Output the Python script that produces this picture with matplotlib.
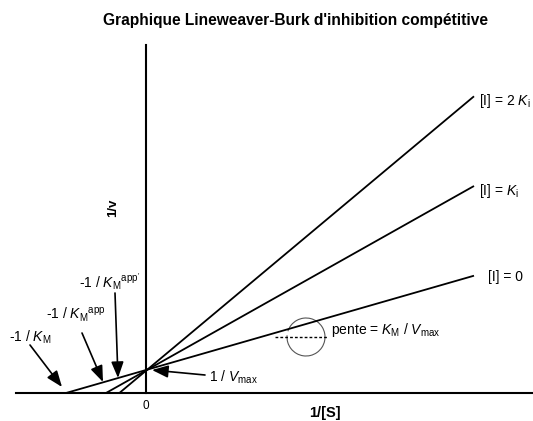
import matplotlib
matplotlib.use("Agg")
import matplotlib.pyplot as plt
from matplotlib.patches import Arc

plt.rcParams['font.family'] = ['Liberation Sans', 'DejaVu Sans']
plt.rcParams['mathtext.fontset'] = 'custom'
plt.rcParams['mathtext.rm'] = 'Liberation Sans'
plt.rcParams['mathtext.it'] = 'Liberation Sans:italic'
plt.rcParams['mathtext.bf'] = 'Liberation Sans:bold'

# valeurs (unites arbitraires)
labels_I = [r'[I] = 0', r'[I] = $\mathit{K}_\mathrm{i}$', r'[I] = 2 $\mathit{K}_\mathrm{i}$']
x_intercepts = [-1.0, -0.5, -0.333]     # -1/KM, -1/KMapp, -1/KMapp'
x_end = 4.1
y_end = [5.1, 9.0, 12.9]
inv_vmax = 1.0

W, H = 533, 421
fig = plt.figure(figsize=(W / 100, H / 100), dpi=100)
ax = fig.add_axes([0, 0, 1, 1])

# echelle : origine a (146, 393) px, 80 px par unite en x, 23 px en y
sx, sy = 80.0, 23.0
x0, y0 = 146.0, 393.0
ax.set_xlim(-x0 / sx, (W - x0) / sx)
ax.set_ylim(-(H - y0) / sy, y0 / sy)


def px(x, y):
    # position en pixels de l'image -> coordonnees data
    return (x - x0) / sx, (y0 - y) / sy


for sp in ['top', 'right']:
    ax.spines[sp].set_visible(False)
ax.spines['left'].set_position(('data', 0))
ax.spines['bottom'].set_position(('data', 0))
ax.spines['left'].set_bounds(0, px(0, 45)[1])
ax.spines['bottom'].set_bounds(px(16, 0)[0], px(W, 0)[0])
ax.spines['left'].set_linewidth(1.5)
ax.spines['bottom'].set_linewidth(1.5)
ax.set_xticks([])
ax.set_yticks([])

for xi, ye in zip(x_intercepts, y_end):
    ax.plot([xi, x_end], [0, ye], color='black', lw=1.3, solid_capstyle='butt')

# etiquettes des droites
fs = 10
ax.text(*px(488, 277), labels_I[0], fontsize=fs, va='center', ha='left')
ax.text(*px(479, 191), labels_I[1], fontsize=fs, va='center', ha='left')
ax.text(*px(479, 101), labels_I[2], fontsize=fs, va='center', ha='left')

# fleches
arrow = dict(arrowstyle='-|>,head_length=0.65,head_width=0.25', color='black',
             lw=1.2, mutation_scale=15, shrinkA=0, shrinkB=0)
ann = [
    (px(62, 387), px(30, 345), px(30, 337), r'-1 / $\mathit{K}_\mathrm{M}$'),
    (px(103, 382), px(82, 333), px(76, 315), r'-1 / $\mathit{K}_\mathrm{M}{}^{\mathrm{app}}$'),
    (px(118, 378), px(115, 293), px(110, 282), r"-1 / $\mathit{K}_\mathrm{M}{}^{\mathrm{app'}}$"),
]
for tip, tail, tpos, txt in ann:
    ax.annotate('', xy=tip, xytext=tail, arrowprops=arrow)
    ax.text(*tpos, txt, fontsize=fs, ha='center', va='center')

ax.annotate('', xy=px(152, 370), xytext=px(205, 375), arrowprops=arrow)
ax.text(*px(209, 377), r'1 / $\mathit{V}_\mathrm{max}$', fontsize=fs, va='center', ha='left')

# pente
cx, cy = px(306, 337)
ax.add_patch(Arc((cx, cy), 38 / sx, 38 / sy, theta1=-197, theta2=132,
                 color='#555555', lw=0.8))
ax.plot([px(275, 0)[0], px(327, 0)[0]], [cy, cy], color='black', lw=1.0,
        linestyle=(0, (2, 1.5)))
ax.text(*px(331, 330), r'pente = $\mathit{K}_\mathrm{M}$ / $\mathit{V}_\mathrm{max}$',
        fontsize=fs, va='center', ha='left')

# axes
ax.text(*px(146, 406), '0', fontsize=8.5, ha='center', va='center')
ax.text(*px(325, 413), '1/[S]', fontsize=10.5, fontweight='bold', ha='center', va='center')
ax.text(*px(113, 208), '1/v', fontsize=9.5, fontweight='bold', ha='center', va='center',
        rotation=90)

ax.text(*px(296, 20), "Graphique Lineweaver-Burk d'inhibition compétitive",
        fontsize=11.2, fontweight='bold', ha='center', va='center')

fig.savefig('out.png', dpi=100)
